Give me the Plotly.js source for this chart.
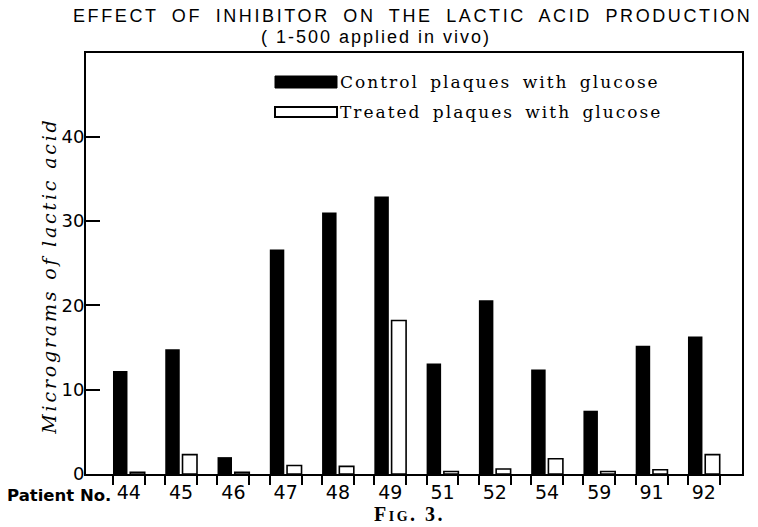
<!DOCTYPE html>
<html>
<head>
<meta charset="utf-8">
<script src="https://cdn.plot.ly/plotly-3.0.1.min.js"></script>
<style>
html,body{margin:0;padding:0;background:#fff;}
#chart{width:758px;height:527px;}
</style>
</head>
<body>
<div id="chart"></div>
<script>
// ---- data ----
const patients = ['44','45','46','47','48','49','51','52','54','59','91','92'];
const control  = [12.2, 14.8, 2.0, 26.6, 31.0, 32.9, 13.1, 20.6, 12.4, 7.5, 15.2, 16.3];
const treated  = [0.2, 2.3, 0.2, 1.0, 0.9, 18.2, 0.3, 0.6, 1.8, 0.3, 0.5, 2.3];
const yTicks   = [0, 10, 20, 30, 40];
const seriesNames = ['Control plaques with glucose', 'Treated plaques with glucose'];

const idx = patients.map((p, i) => i);
const half = 0.305;
const edgeTicks = [];
idx.forEach(i => { edgeTicks.push(i - half); edgeTicks.push(i + half); });

function spaced(t, ls, ws) {
  return '<span style="letter-spacing:' + ls + 'px;word-spacing:' + (ws || 0) + 'px">' + t + '</span>';
}

const traces = [
  {type:'bar', name: seriesNames[0], x: idx, y: control,
   marker:{color:'#000', line:{color:'#000', width:0}}, showlegend:false, hoverinfo:'x+y'},
  {type:'bar', name: seriesNames[1], x: idx, y: treated,
   marker:{color:'#fff', line:{color:'#000', width:1.6}}, showlegend:false, hoverinfo:'x+y'}
];

const layout = {
  width:758, height:527,
  margin:{l:86, r:16, t:53, b:53},
  paper_bgcolor:'#fff', plot_bgcolor:'#fff',
  barmode:'group', bargap:0.34, bargroupgap:0.16,
  font:{family:'DejaVu Sans', color:'#000'},
  title:{
    text: spaced('EFFECT OF INHIBITOR ON THE LACTIC ACID PRODUCTION', 2.6, 6),
    font:{family:'Liberation Sans', size:18, color:'#000'},
    xref:'container', x:73/758, xanchor:'left',
    yref:'container', y:1-15.5/527, yanchor:'middle'
  },
  xaxis:{
    range:[-0.82, 11.73],
    tickmode:'array', tickvals: idx, ticktext: patients,
    ticks:'', showline:true, linewidth:2, linecolor:'#000', mirror:true,
    showgrid:false, zeroline:false,
    tickfont:{family:'DejaVu Sans', size:19, color:'#000'},
    minor:{tickmode:'array', tickvals: edgeTicks, ticks:'outside', ticklen:9, tickwidth:2, tickcolor:'#000', showgrid:false}
  },
  yaxis:{
    range:[0, 49.9],
    tickmode:'array', tickvals: yTicks,
    ticks:'inside', ticklen:14, tickwidth:2, tickcolor:'#000',
    showline:true, linewidth:2, linecolor:'#000', mirror:true,
    showgrid:false, zeroline:false,
    tickfont:{family:'DejaVu Sans', size:18, color:'#000'},
    ticklabelstandoff:-4,
    title:{
      text: spaced('<i>Micrograms of lactic acid</i>', 2.8) + '&nbsp;&nbsp;&nbsp;&nbsp;',
      font:{family:'DejaVu Serif', size:19, color:'#000'},
      standoff:0
    }
  },
  shapes:[
    {type:'rect', xref:'paper', yref:'paper', x0:(275-86)/656, x1:(337-86)/656, y0:(474-88)/421, y1:(474-76)/421,
     fillcolor:'#000', line:{color:'#000', width:1}},
    {type:'rect', xref:'paper', yref:'paper', x0:(275-86)/656, x1:(337-86)/656, y0:(474-117)/421, y1:(474-107)/421,
     fillcolor:'#fff', line:{color:'#000', width:2}}
  ],
  annotations:[
    {text: spaced('( 1-500 applied in vivo)', 2), xref:'paper', yref:'paper', x:(376-86)/656, y:(474-37)/421,
     xanchor:'center', yanchor:'middle', showarrow:false, font:{family:'Liberation Sans', size:18, color:'#000'}},
    {text: spaced(seriesNames[0], 2, 4), xref:'paper', yref:'paper', x:(338-86)/656, y:(474-82)/421,
     xanchor:'left', yanchor:'middle', showarrow:false, font:{family:'DejaVu Serif', size:17, color:'#000'}},
    {text: spaced(seriesNames[1], 2, 4), xref:'paper', yref:'paper', x:(338-86)/656, y:(474-112)/421,
     xanchor:'left', yanchor:'middle', showarrow:false, font:{family:'DejaVu Serif', size:17, color:'#000'}},
    {text:'<b>Patient No.</b>', xref:'paper', yref:'paper', x:(5-86)/656, y:(474-495)/421,
     xanchor:'left', yanchor:'middle', showarrow:false, font:{family:'DejaVu Sans', size:16.5, color:'#000'}},
    {text: spaced('Fig. 3.', 2.5), xref:'paper', yref:'paper', x:(409-86)/656, y:(474-514)/421,
     xanchor:'center', yanchor:'middle', showarrow:false, font:{family:'Liberation Serif', size:20, color:'#000', variant:'small-caps', weight:'bold'}}
  ]
};

Plotly.newPlot('chart', traces, layout, {staticPlot:true, displayModeBar:false});
</script>
</body>
</html>
